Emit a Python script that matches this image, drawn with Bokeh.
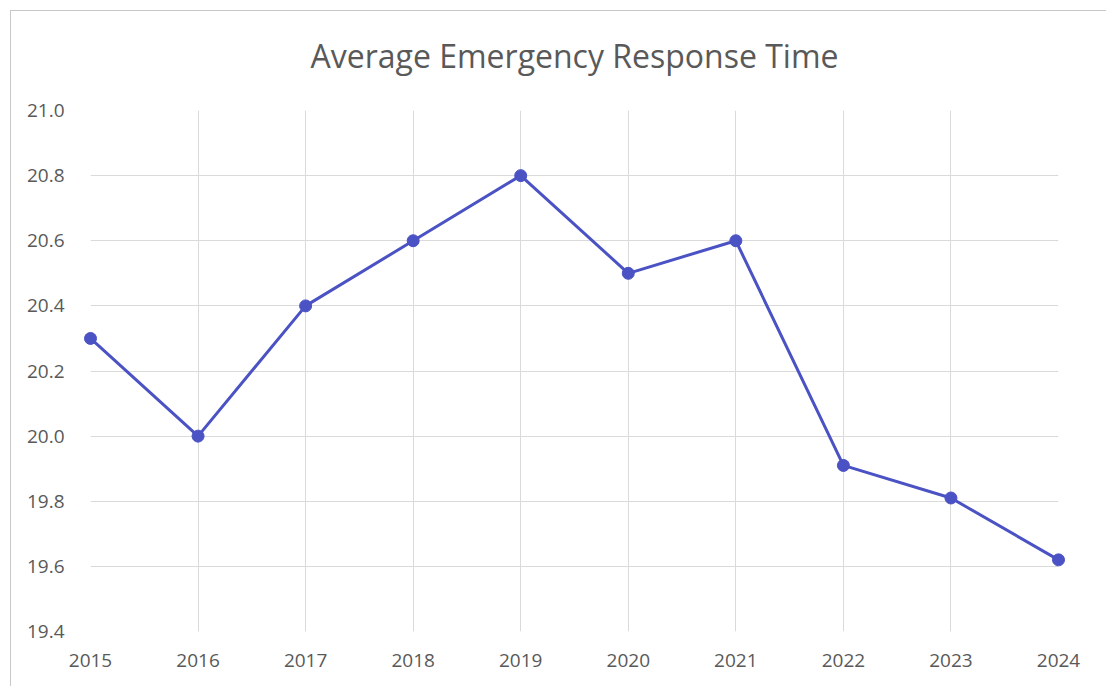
from bokeh.plotting import figure
from bokeh.models import FixedTicker, NumeralTickFormatter, Range1d, Title
from bokeh.embed import file_html
from bokeh.resources import INLINE

years = [2015, 2016, 2017, 2018, 2019, 2020, 2021, 2022, 2023, 2024]
response_time = [20.3, 20.0, 20.4, 20.6, 20.8, 20.5, 20.6, 19.91, 19.81, 19.62]
y_ticks = [19.4, 19.6, 19.8, 20.0, 20.2, 20.4, 20.6, 20.8, 21.0]
title_text = "Average Emergency Response Time"

p = figure(width=1096, height=676, output_backend="svg", toolbar_location=None,
           title=None,
           x_range=Range1d(2015, 2024), y_range=Range1d(19.4, 21.0),
           min_border_left=79, min_border_right=49, min_border_top=99, min_border_bottom=56)
p.margin = (10, 0, 0, 10)
p.styles = {"border-top": "1px solid #c8c8c8", "border-left": "1px solid #c8c8c8"}

# small spacer between the frame and the main title
p.add_layout(Title(text=" ", text_font_size="1px", standoff=18), "above")
p.add_layout(Title(text=title_text, align="center", text_font="Open Sans",
                   text_font_size="32px", text_font_style="normal",
                   text_color="#595959", standoff=26), "above")

p.line(years, response_time, line_color="#4a52c4", line_width=3, level="overlay")
p.scatter(years, response_time, size=12, fill_color="#4a52c4", line_color="#4a52c4",
          level="overlay")

p.xaxis.ticker = FixedTicker(ticks=years)
p.yaxis.ticker = FixedTicker(ticks=y_ticks)
p.yaxis.formatter = NumeralTickFormatter(format="0.0")
for ax in (p.xaxis, p.yaxis):
    ax.axis_line_color = None
    ax.major_tick_line_color = None
    ax.minor_tick_line_color = None
    ax.major_label_text_font = "Open Sans"
    ax.major_label_text_font_size = "19px"
    ax.major_label_text_color = "#595959"
p.xaxis.major_label_standoff = 16
p.yaxis.major_label_standoff = 20

p.xgrid.ticker = FixedTicker(ticks=years)
p.ygrid.ticker = FixedTicker(ticks=y_ticks)
p.xgrid.grid_line_color = "#dadada"
p.ygrid.grid_line_color = "#dadada"
p.outline_line_color = None
p.background_fill_color = "white"
p.border_fill_color = "white"

open("out.html", "w").write(file_html(p, INLINE))
